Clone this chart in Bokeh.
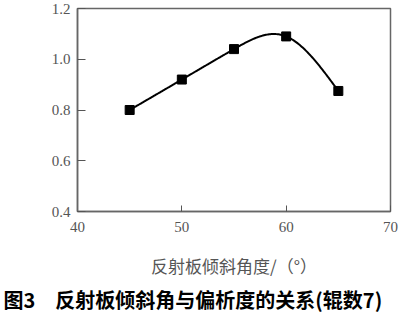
import numpy as np
from bokeh.plotting import figure
from bokeh.models import Range1d, FixedTicker, Title, PrintfTickFormatter
from bokeh.embed import file_html
from bokeh.resources import INLINE

# Data
angle = [45, 50, 55, 60, 65]          # 反射板倾斜角度 / °
segregation = [0.80, 0.92, 1.04, 1.09, 0.875]  # 偏析度
x_ticks = [40, 50, 60, 70]
y_ticks = [0.4, 0.6, 0.8, 1.0, 1.2]
x_title = "反射板倾斜角度/（°）"
caption = "图3　反射板倾斜角与偏析度的关系(辊数7)"


def natural_spline(xs, ys, n=200):
    xs = np.asarray(xs, float)
    ys = np.asarray(ys, float)
    k = len(xs)
    h = np.diff(xs)
    A = np.zeros((k, k))
    b = np.zeros(k)
    A[0, 0] = A[-1, -1] = 1.0
    for i in range(1, k - 1):
        A[i, i - 1] = h[i - 1]
        A[i, i] = 2 * (h[i - 1] + h[i])
        A[i, i + 1] = h[i]
        b[i] = 6 * ((ys[i + 1] - ys[i]) / h[i] - (ys[i] - ys[i - 1]) / h[i - 1])
    M = np.linalg.solve(A, b)
    xx = np.linspace(xs[0], xs[-1], n)
    yy = np.empty_like(xx)
    for j, t in enumerate(xx):
        i = min(np.searchsorted(xs, t, side="right") - 1, k - 2)
        a = xs[i + 1] - t
        c = t - xs[i]
        yy[j] = (M[i] * a ** 3 + M[i + 1] * c ** 3) / (6 * h[i]) \
            + (ys[i] / h[i] - M[i] * h[i] / 6) * a \
            + (ys[i + 1] / h[i] - M[i + 1] * h[i] / 6) * c
    return xx, yy


p = figure(width=400, height=315, output_backend="svg", toolbar_location=None,
           x_range=Range1d(40, 70), y_range=Range1d(0.4, 1.2),
           min_border_left=77, min_border_right=10, min_border_top=8,
           min_border_bottom=0)

p.xgrid.visible = False
p.ygrid.visible = False
p.outline_line_color = "#666666"
p.outline_line_width = 1.5
p.background_fill_color = "white"
p.border_fill_color = "white"

xs, ys = natural_spline(angle, segregation)
p.line(xs, ys, line_color="black", line_width=2)
p.scatter(angle, segregation, marker="square", size=9, fill_color="black",
          line_color="black")

for ax in (p.xaxis[0], p.yaxis[0]):
    ax.axis_line_color = "#666666"
    ax.axis_line_width = 1.5
    ax.major_tick_in = 6
    ax.major_tick_out = 0
    ax.minor_tick_in = 0
    ax.minor_tick_out = 0
    ax.major_tick_line_color = "#555555"
    ax.major_label_text_font = "Liberation Serif"
    ax.major_label_text_font_size = "15px"
    ax.major_label_text_color = "#555555"

p.xaxis.ticker = FixedTicker(ticks=x_ticks)
p.yaxis.ticker = FixedTicker(ticks=y_ticks)
p.yaxis.formatter = PrintfTickFormatter(format="%.1f")
p.yaxis.major_tick_in = 8
p.yaxis.major_label_standoff = 7
p.xaxis.major_label_standoff = 10

p.xaxis.axis_label = x_title
p.xaxis.axis_label_text_font = "Noto Sans CJK SC"
p.xaxis.axis_label_text_font_style = "normal"
p.xaxis.axis_label_text_font_size = "17px"
p.xaxis.axis_label_text_color = "#555555"
p.xaxis.axis_label_standoff = 18

p.add_layout(Title(text=caption, align="left", offset=-74, standoff=4,
                   text_font="Noto Sans CJK SC", text_font_style="bold",
                   text_font_size="20px", text_color="black"), "below")

open("out.html", "w").write(file_html(p, INLINE))
